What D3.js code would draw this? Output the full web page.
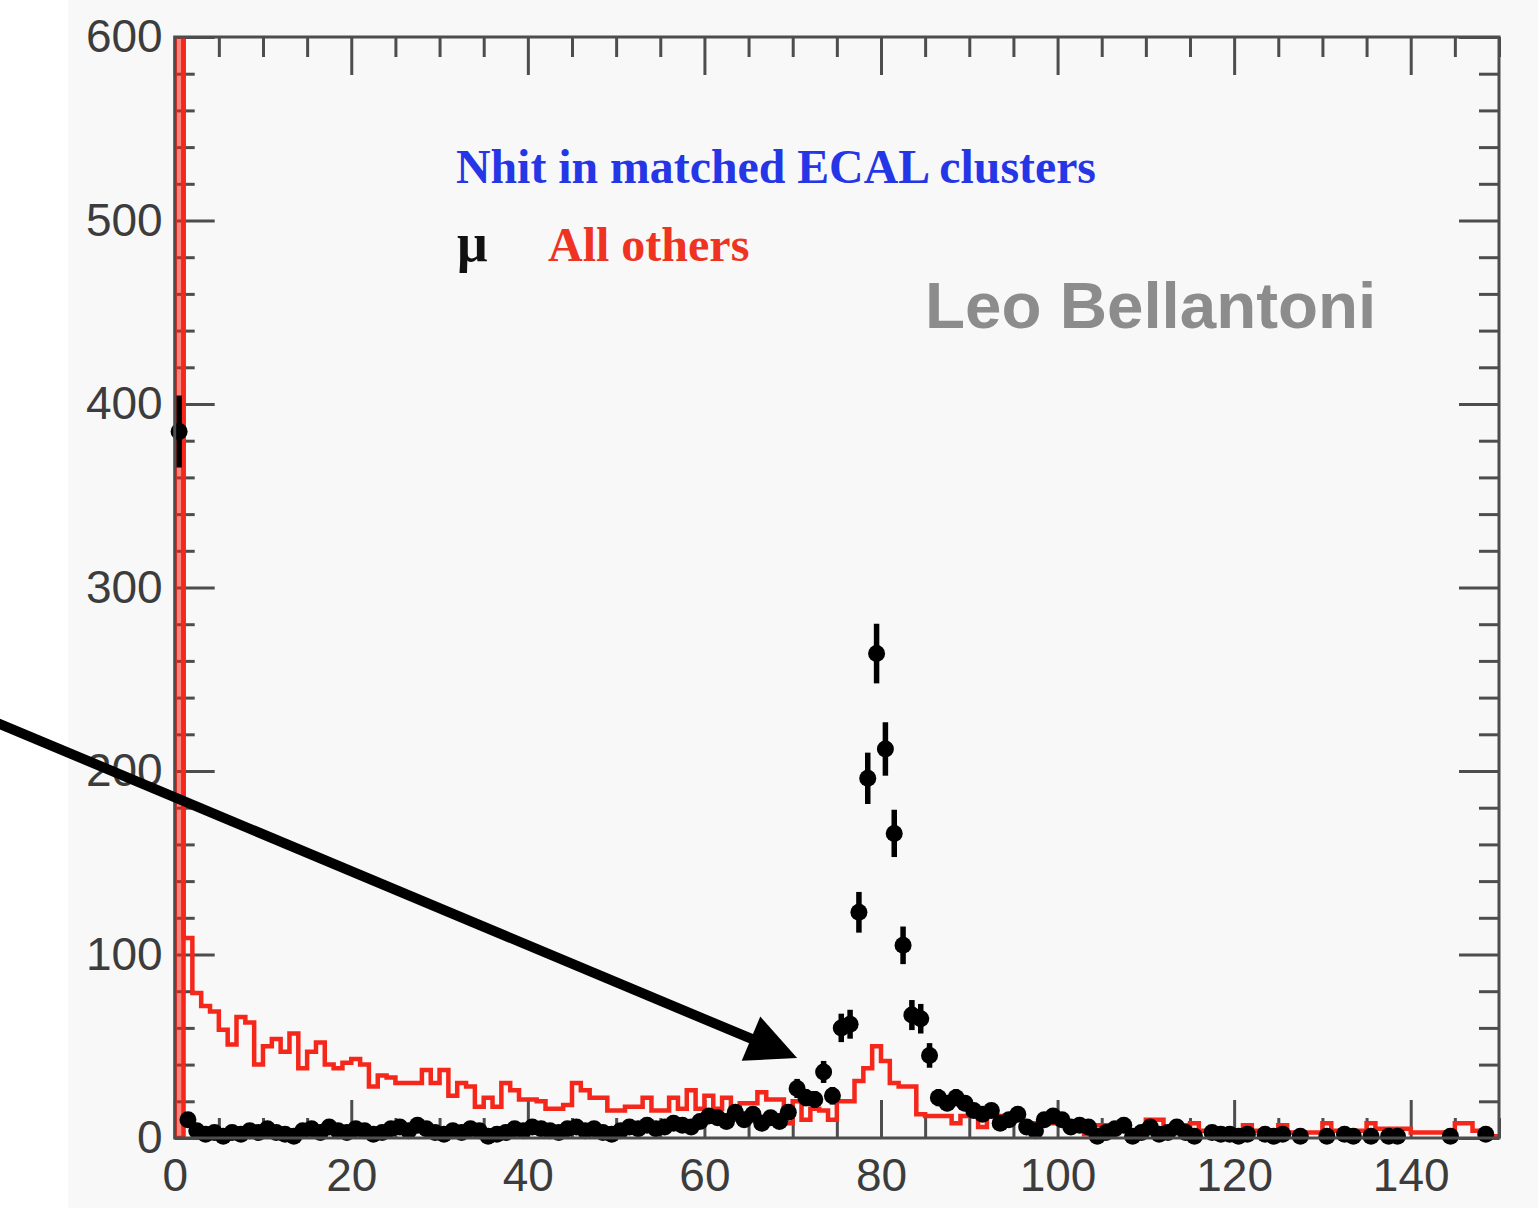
<!DOCTYPE html>
<html><head><meta charset="utf-8">
<script src="https://cdn.jsdelivr.net/npm/d3@7"></script>
<style>
html,body{margin:0;padding:0;background:#fff;}
svg{display:block;}
</style></head>
<body>
<svg id="chart" width="1538" height="1208"></svg>
<script>
// ---------------- data ----------------
const xDomain = [0, 150];
const yDomain = [0, 600];
const xTickValues = [0, 20, 40, 60, 80, 100, 120, 140];
const yTickValues = [0, 100, 200, 300, 400, 500, 600];

// muon counts, one per unit bin starting at 0
const muonCounts = [
  385, 10, 4, 2, 3, 1, 3, 2, 4, 3,
  5, 3, 2, 1, 4, 5, 3, 6, 4, 3,
  5, 4, 2, 3, 5, 6, 4, 7, 5, 3,
  2, 4, 3, 5, 4, 1, 2, 3, 5, 4,
  6, 5, 4, 3, 5, 6, 4, 5, 3, 2,
  4, 6, 5, 7, 5, 6, 8, 7, 6, 9,
  12, 11, 9, 14, 10, 13, 8, 11, 9, 14,
  27, 22, 21, 36, 23, 60, 62, 123, 196, 264,
  212, 166, 105, 67, 65, 45, 22, 19, 22, 19,
  15, 13, 15, 8, 10, 13, 6, 4, 10, 12,
  10, 6, 7, 6, 1, 3, 5, 7, 1, 3,
  6, 2, 3, 6, 3, 1, 0, 3, 2, 2,
  1, 2, 0, 2, 1, 2, 0, 1, 0, 0,
  1, 0, 2, 1, 0, 1, 0, 1, 1, 0,
  0, 0, 0, 0, 1, 0, 0, 0, 2, 0
];

// all others counts, one per unit bin starting at 0 (bin 0 runs off scale)
const otherCounts = [
  620, 109, 79, 72, 69, 59, 51, 66, 63, 40,
  50, 54, 47, 57, 38, 47, 52, 40, 38, 41,
  43, 40, 28, 34, 33, 30, 30, 30, 37, 30,
  37, 23, 30, 28, 17, 22, 17, 30, 26, 21,
  21, 20, 16, 16, 18, 30, 26, 22, 22, 15,
  15, 17, 17, 22, 15, 15, 22, 16, 26, 16,
  23, 16, 22, 10, 19, 19, 25, 21, 21, 8,
  20, 10, 16, 15, 10, 20, 20, 31, 38, 50,
  42, 30, 28, 28, 13, 12, 12, 12, 8, 12,
  15, 6, 12, 12, 10, 10, 8, 8, 10, 8,
  8, 6, 6, 2, 7, 7, 5, 7, 3, 3,
  10, 10, 5, 3, 7, 8, 4, 4, 4, 4,
  4, 7, 4, 4, 4, 7, 3, 3, 3, 3,
  8, 4, 4, 4, 4, 8, 5, 5, 5, 5,
  3, 3, 3, 3, 1, 8, 8, 4, 1, 1
];

const titleText = "Nhit in matched ECAL clusters";
const legendMu = "\u03bc";
const legendOthers = "All others";
const authorText = "Leo Bellantoni";
// annotation arrow, in data coordinates
const arrowFrom = [-20, 226];
const arrowTo = [70.5, 43.6];

// ---------------- drawing ----------------
const svg = d3.select("#chart");
const W = 1538, H = 1208;
const x = d3.scaleLinear().domain(xDomain).range([174.7, 1499]);
const y = d3.scaleLinear().domain(yDomain).range([1138, 37]);

const axisColor = "#4d4d4d";
const redColor = "#f5261a";

// background
svg.append("rect").attr("x", 0).attr("y", 0).attr("width", W).attr("height", H).attr("fill", "#ffffff");
svg.append("rect").attr("x", 68).attr("y", 0).attr("width", W - 68).attr("height", H).attr("fill", "#f8f8f8");

// clip
svg.append("defs").append("clipPath").attr("id", "plotclip")
  .append("rect")
  .attr("x", x(0)).attr("y", y(600))
  .attr("width", x(150) - x(0)).attr("height", y(0) - y(600));

// axes
function styleAxis(g) {
  g.select(".domain").remove();
  g.selectAll(".tick line").attr("stroke", axisColor).attr("stroke-width", 3);
  g.selectAll(".tick text").attr("fill", "#3c3c3c")
    .style("font-family", "'Liberation Sans', Arial, sans-serif").style("font-size", "46px");
}
const xMinor = d3.range(0, 151, 5).filter(v => v % 20 !== 0);
const yMinor = d3.range(0, 601, 20).filter(v => v % 100 !== 0);

// bottom
svg.append("g").attr("transform", `translate(0,${y(0)})`)
  .call(d3.axisBottom(x).tickValues(xTickValues).tickSize(-38).tickSizeOuter(0).tickPadding(20))
  .call(styleAxis);
svg.append("g").attr("transform", `translate(0,${y(0)})`)
  .call(d3.axisBottom(x).tickValues(xMinor).tickSize(-20).tickSizeOuter(0).tickFormat(""))
  .call(styleAxis);
// top
svg.append("g").attr("transform", `translate(0,${y(600)})`)
  .call(d3.axisTop(x).tickValues(xTickValues).tickSize(-38).tickSizeOuter(0).tickFormat(""))
  .call(styleAxis);
svg.append("g").attr("transform", `translate(0,${y(600)})`)
  .call(d3.axisTop(x).tickValues(xMinor).tickSize(-20).tickSizeOuter(0).tickFormat(""))
  .call(styleAxis);
// left
svg.append("g").attr("transform", `translate(${x(0)},0)`)
  .call(d3.axisLeft(y).tickValues(yTickValues).tickSize(-40).tickSizeOuter(0).tickPadding(12))
  .call(styleAxis);
svg.append("g").attr("transform", `translate(${x(0)},0)`)
  .call(d3.axisLeft(y).tickValues(yMinor).tickSize(-20).tickSizeOuter(0).tickFormat(""))
  .call(styleAxis);
// right
svg.append("g").attr("transform", `translate(${x(150)},0)`)
  .call(d3.axisRight(y).tickValues(yTickValues).tickSize(-40).tickSizeOuter(0).tickFormat(""))
  .call(styleAxis);
svg.append("g").attr("transform", `translate(${x(150)},0)`)
  .call(d3.axisRight(y).tickValues(yMinor).tickSize(-20).tickSizeOuter(0).tickFormat(""))
  .call(styleAxis);

// red histogram ("All others")
const redG = svg.append("g").attr("clip-path", "url(#plotclip)");
redG.append("rect")
  .attr("x", x(0)).attr("y", y(otherCounts[0]))
  .attr("width", x(1) - x(0)).attr("height", y(0) - y(otherCounts[0]))
  .attr("fill", redColor).attr("fill-opacity", 0.55)
  .attr("stroke", redColor).attr("stroke-width", 4.5);
const stepPts = [[0, 0]];
otherCounts.forEach((v, i) => stepPts.push([i, v]));
stepPts.push([otherCounts.length, otherCounts[otherCounts.length - 1]]);
stepPts.push([otherCounts.length, 0]);
redG.append("path")
  .attr("d", d3.line().x(d => x(d[0])).y(d => y(d[1])).curve(d3.curveStepAfter)(stepPts))
  .attr("fill", "none").attr("stroke", redColor).attr("stroke-width", 4.5)
  .attr("stroke-linejoin", "miter");

// muon points with errors
const muData = muonCounts.map((v, i) => ({ i, v })).filter(d => d.v > 0);
const muG = svg.append("g");
muG.selectAll("line.ey").data(muData).join("line").attr("class", "ey")
  .attr("x1", d => x(d.i + 0.5)).attr("x2", d => x(d.i + 0.5))
  .attr("y1", d => y(d.v - Math.sqrt(d.v))).attr("y2", d => y(d.v + Math.sqrt(d.v)))
  .attr("stroke", "#000").attr("stroke-width", 5.5);
muG.selectAll("line.ex").data(muData).join("line").attr("class", "ex")
  .attr("x1", d => x(d.i)).attr("x2", d => x(d.i + 1))
  .attr("y1", d => y(d.v)).attr("y2", d => y(d.v))
  .attr("stroke", "#000").attr("stroke-width", 3);
muG.selectAll("circle").data(muData).join("circle")
  .attr("cx", d => x(d.i + 0.5)).attr("cy", d => y(d.v)).attr("r", 8.5)
  .attr("fill", "#000");

// frame
svg.append("rect")
  .attr("x", x(0)).attr("y", y(600))
  .attr("width", x(150) - x(0)).attr("height", y(0) - y(600))
  .attr("fill", "none").attr("stroke", axisColor).attr("stroke-width", 3);

// texts
svg.append("text").attr("x", 456).attr("y", 183).text(titleText)
  .attr("fill", "#2536e6").style("font-family", "'Liberation Serif', 'Times New Roman', serif")
  .style("font-size", "47.8px").style("font-weight", "bold");
svg.append("text").attr("x", 457).attr("y", 261).text(legendMu)
  .attr("fill", "#111").style("font-family", "'Liberation Serif', 'Times New Roman', serif")
  .style("font-size", "54px").style("font-weight", "bold");
svg.append("text").attr("x", 548).attr("y", 261).text(legendOthers)
  .attr("fill", "#ee3322").style("font-family", "'Liberation Serif', 'Times New Roman', serif")
  .style("font-size", "48px").style("font-weight", "bold");
svg.append("text").attr("x", 925).attr("y", 328).text(authorText)
  .attr("fill", "#8c8c8c").style("font-family", "'Liberation Sans', Arial, sans-serif")
  .style("font-size", "65.5px").style("font-weight", "bold");

// arrow annotation
const p0 = [x(arrowFrom[0]), y(arrowFrom[1])];
const p1 = [x(arrowTo[0]), y(arrowTo[1])];
const dx = p1[0] - p0[0], dy = p1[1] - p0[1];
const len = Math.hypot(dx, dy);
const ux = dx / len, uy = dy / len;
const headLen = 50, headHalf = 24;
const base = [p1[0] - ux * headLen, p1[1] - uy * headLen];
svg.append("line")
  .attr("x1", p0[0]).attr("y1", p0[1]).attr("x2", base[0] + ux * 4).attr("y2", base[1] + uy * 4)
  .attr("stroke", "#000").attr("stroke-width", 10);
svg.append("path")
  .attr("d", `M${p1[0]},${p1[1]} L${base[0] - uy * headHalf},${base[1] + ux * headHalf} L${base[0] + uy * headHalf},${base[1] - ux * headHalf} Z`)
  .attr("fill", "#000");
</script>
</body></html>
